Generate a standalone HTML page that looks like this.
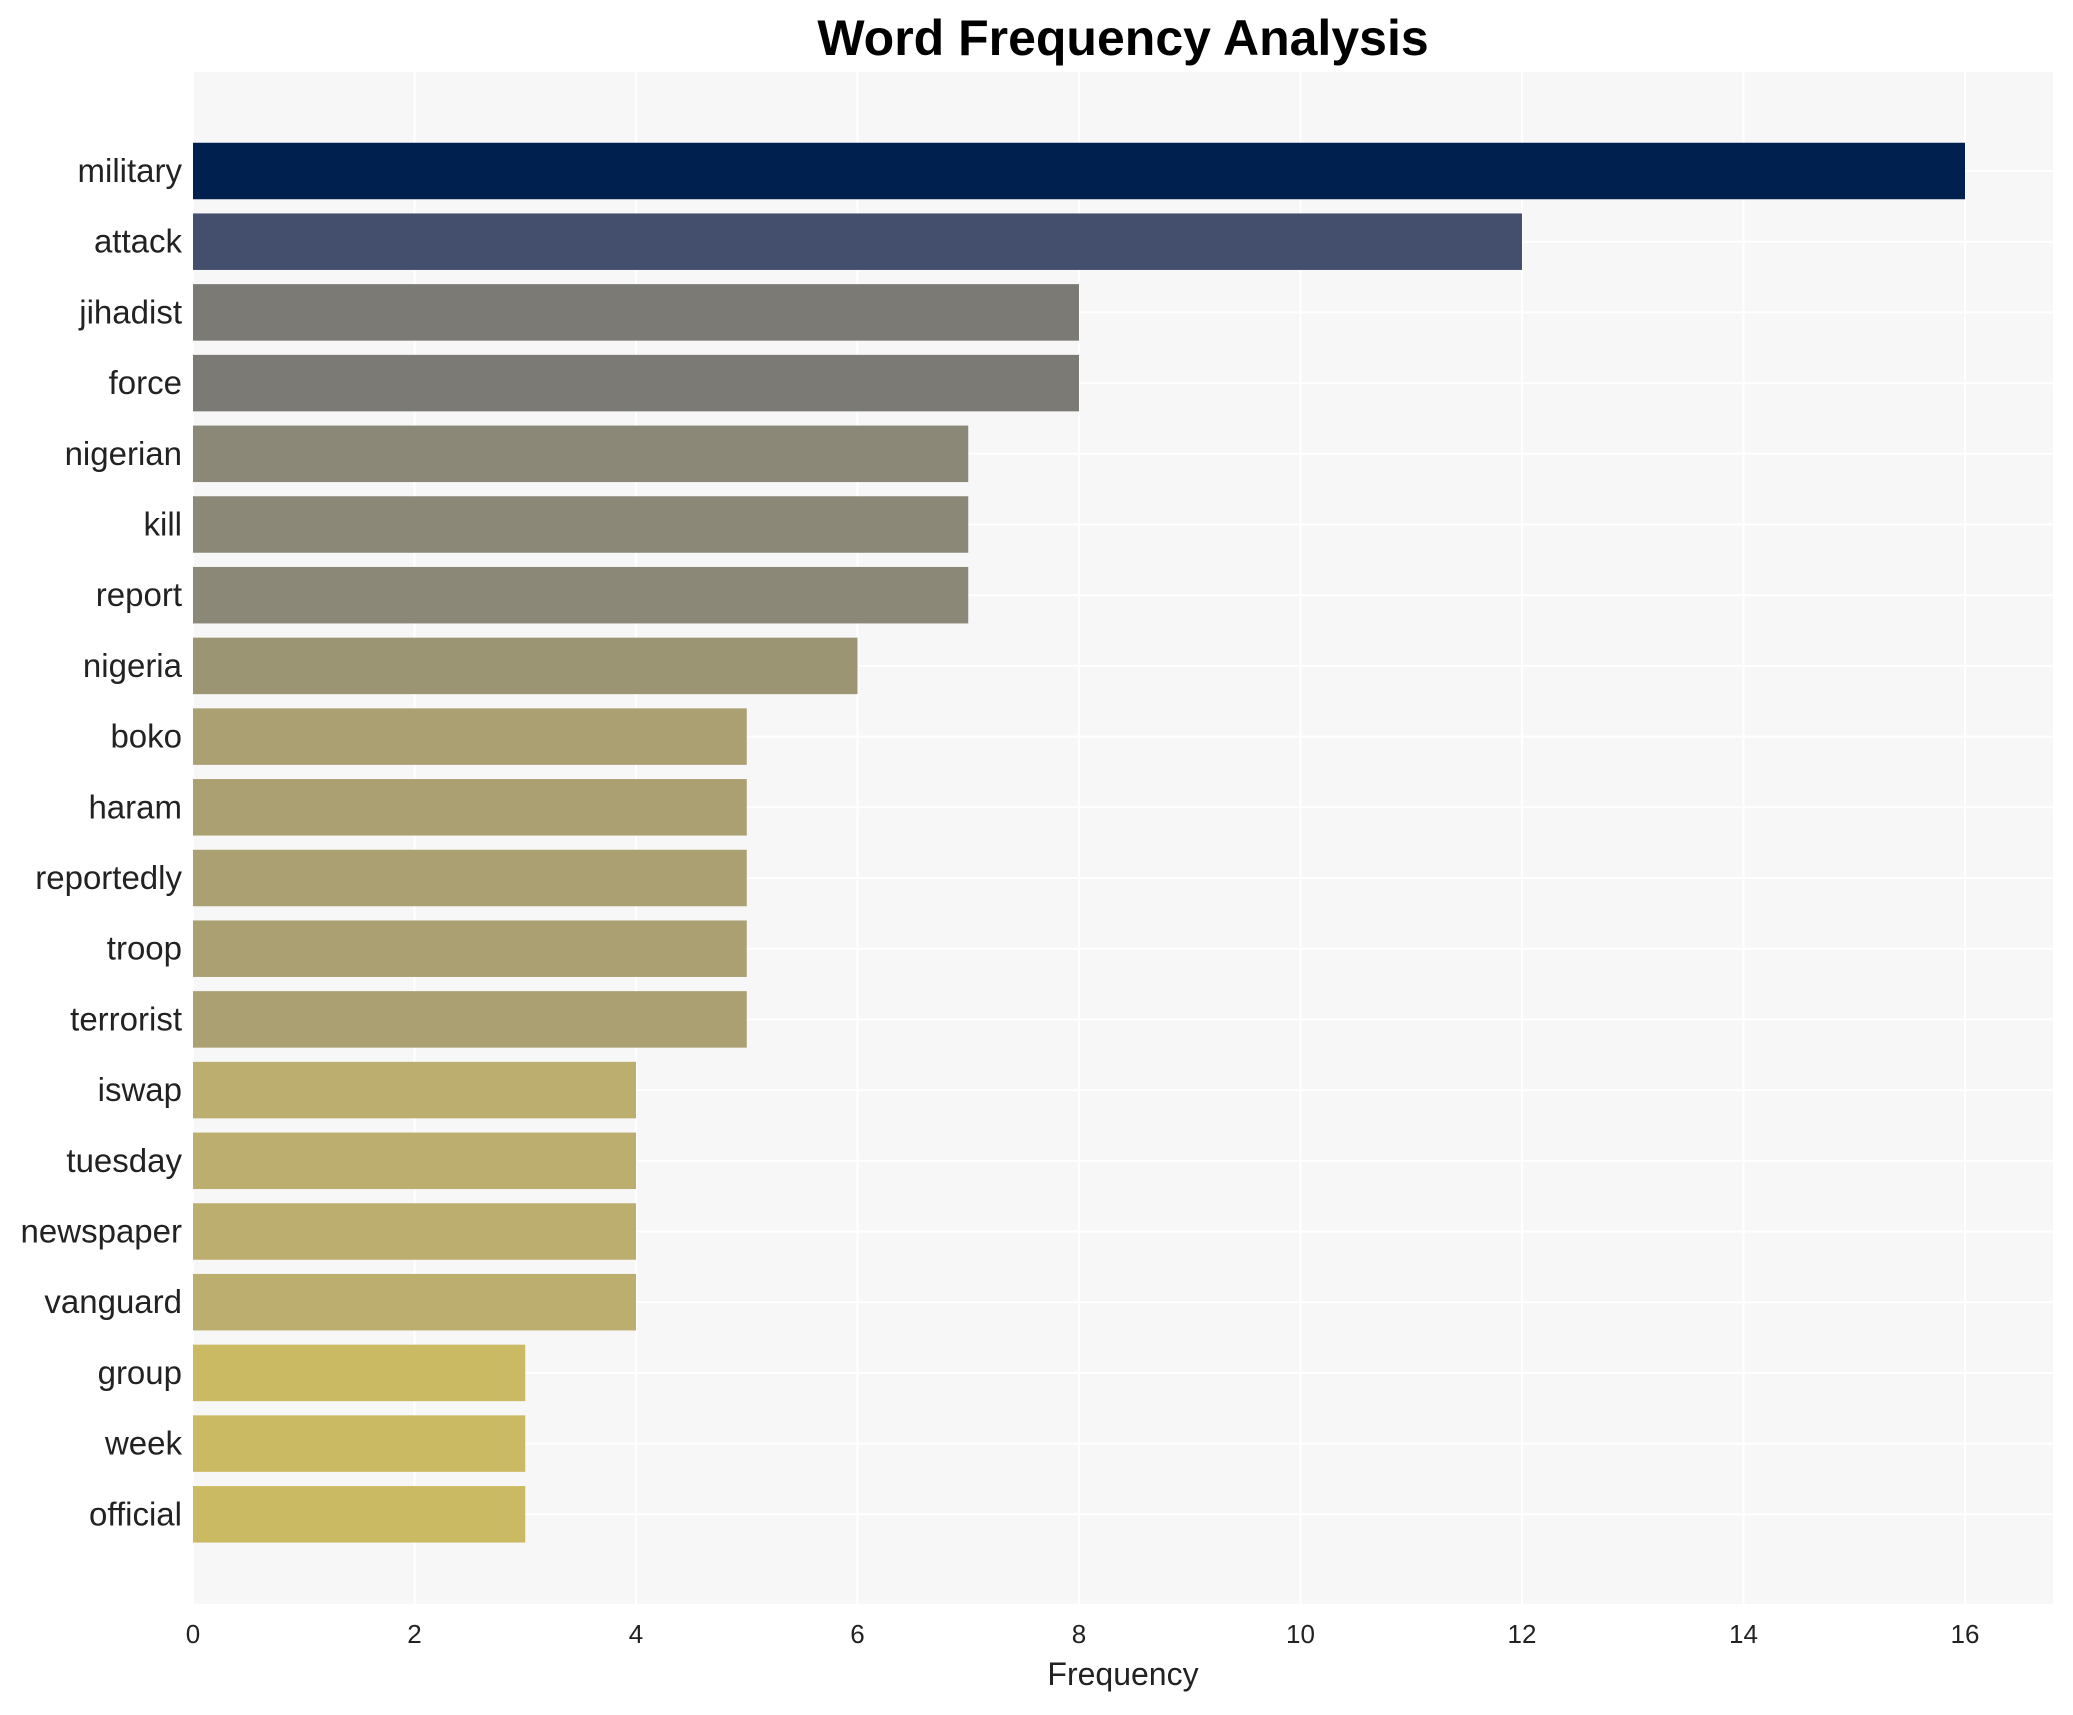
<!DOCTYPE html>
<html><head><meta charset="utf-8"><style>
body{margin:0;background:#fff;}
svg text{font-family:"Liberation Sans",Arial,sans-serif;}
</style></head><body>
<svg id="chart" width="2073" height="1710" xmlns="http://www.w3.org/2000/svg">
<rect x="193" y="72" width="1860" height="1532" fill="#f7f7f7"/>
<g id="grid"></g><g id="bars"></g><g id="labels"></g><g id="xticks"></g>
<text x="1123" y="55" text-anchor="middle" font-size="50" font-weight="bold" fill="#000">Word Frequency Analysis</text>
<text x="1123" y="1685" text-anchor="middle" font-size="32" fill="#222">Frequency</text>
</svg>
<script>
const categories=["military","attack","jihadist","force","nigerian","kill","report","nigeria","boko","haram","reportedly","troop","terrorist","iswap","tuesday","newspaper","vanguard","group","week","official"];
const values=[16,12,8,8,7,7,7,6,5,5,5,5,5,4,4,4,4,3,3,3];
const colors=["#002050","#434f6d","#7b7a74","#7b7a74","#8b8878","#8b8878","#8b8878","#9c9574","#aba072","#aba072","#aba072","#aba072","#aba072","#bbae6e","#bbae6e","#bbae6e","#bbae6e","#cbba64","#cbba64","#cbba64"];
const xTicks=[0,2,4,6,8,10,12,14,16];
const NS="http://www.w3.org/2000/svg";
const x=v=>193+v*110.75;
const y=i=>171+i*70.7;
const bh=56.5;
function mk(t,a,p){const e=document.createElementNS(NS,t);for(const k in a)e.setAttribute(k,a[k]);p.appendChild(e);return e;}
const grid=document.getElementById('grid'),bars=document.getElementById('bars'),labels=document.getElementById('labels'),xt=document.getElementById('xticks');
xTicks.forEach(v=>{const l=mk('line',{x1:x(v),x2:x(v),y1:72,y2:1604,stroke:'#ffffff','stroke-width':2},grid);

});
categories.forEach((c,i)=>{const l=mk('line',{x1:193,x2:2053,y1:y(i),y2:y(i),stroke:'#ffffff','stroke-width':2},grid);


const r=mk('rect',{x:x(0),y:y(i)-bh/2,width:x(values[i])-x(0),height:bh,fill:colors[i]},bars);


const t=mk('text',{x:182,y:y(i)+11,'text-anchor':'end','font-size':33,fill:'#222'},labels);t.textContent=c;

});
xTicks.forEach(v=>{const t=mk('text',{x:x(v),y:1643,'text-anchor':'middle','font-size':26,fill:'#222'},xt);t.textContent=v;

});
</script>
</body></html>
